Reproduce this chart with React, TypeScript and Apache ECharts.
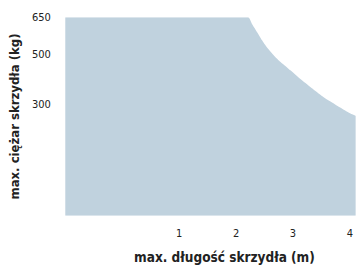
import React, { useEffect, useRef } from "react";
import * as echarts from "echarts";

const xTicks = [1, 2, 3, 4];
const yTicks = [300, 500, 650];
const lengthM = [-1, 2.21, 2.28, 2.37, 2.46, 2.54, 2.63, 2.74, 2.86, 2.96, 3.13, 3.31, 3.48, 3.65, 3.82, 4.0, 4.1];
const weightKg = [650, 650, 623, 590, 556, 529, 505, 478, 455, 435, 401, 368, 338, 311, 287, 263, 253];
const xName = "max. długość skrzydła (m)";
const yName = "max. ciężar skrzydła (kg)";

export default function App() {
  const ref = useRef<HTMLDivElement>(null);
  useEffect(() => {
    if (!ref.current) return;
    const chart = echarts.init(ref.current, null, { renderer: "svg" });
    const labelFont = "'DejaVu Sans Condensed', 'DejaVu Sans', sans-serif";
    const fill = "#c0d2de";
    chart.setOption({
      animation: false,
      backgroundColor: "#ffffff",
      grid: { left: 60.5, right: 0, top: 17.3, bottom: 54.3, containLabel: false },
      xAxis: {
        type: "value",
        min: -1,
        max: 4.1,
        name: xName,
        nameLocation: "middle",
        nameGap: 34,
        nameTextStyle: {
          fontFamily: labelFont,
          fontWeight: "bold",
          fontSize: 13.5,
          color: "#222",
          padding: [0, 0, 0, 28],
        },
        axisLine: { show: false },
        axisTick: { show: false },
        splitLine: { show: false },
        axisLabel: {
          customValues: xTicks,
          margin: 12,
          fontFamily: labelFont,
          fontSize: 11,
          color: "#222",
        },
      },
      yAxis: {
        type: "value",
        min: -150,
        max: 650,
        name: yName,
        nameLocation: "middle",
        nameGap: 36,
        nameTextStyle: {
          fontFamily: labelFont,
          fontWeight: "bold",
          fontSize: 13,
          color: "#222",
        },
        axisLine: { show: false },
        axisTick: { show: false },
        splitLine: { show: false },
        axisLabel: {
          customValues: yTicks,
          margin: 14.5,
          fontFamily: labelFont,
          fontSize: 11,
          color: "#222",
        },
      },
      series: [
        {
          type: "line",
          data: lengthM.map((x, i) => [x, weightKg[i]]),
          smooth: 0.2,
          showSymbol: false,
          lineStyle: { width: 0 },
          areaStyle: { color: fill, opacity: 1, origin: "start" },
        },
      ],
    });
    return () => chart.dispose();
  }, []);
  return (
    <>
      <style>{`#root svg text { font-stretch: condensed !important; }`}</style>
      <div
        ref={ref}
        style={{ position: "absolute", left: 0, top: 0, width: 356, height: 270 }}
      />
    </>
  );
}
